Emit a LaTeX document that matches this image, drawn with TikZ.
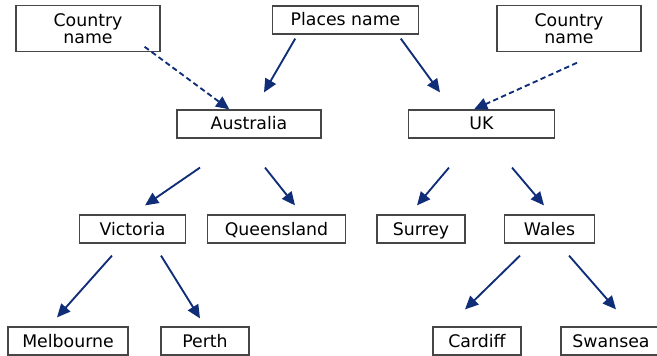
\documentclass[tikz,border=0pt]{standalone}
\usepackage{fontspec}
\setmainfont{DejaVu Sans}
\usetikzlibrary{arrows.meta,calc}
\definecolor{arrowblue}{RGB}{16,46,120}
\definecolor{boxgray}{RGB}{70,70,70}

\begin{document}
\begin{tikzpicture}[x=0.75pt,y=0.75pt,yscale=-1,xscale=1,
  box/.style={draw=boxgray,line width=0.9pt,fill=white,inner sep=0pt,minimum height=21pt,text height=11pt,text depth=2pt,font=\fontsize{13}{12.5}\selectfont},
  twoline/.style={box,align=center,minimum height=34pt,text height=,text depth=},
  arr/.style={draw=arrowblue,line width=1.4pt,-{Triangle[length=10pt,width=9pt]}},
  dasharr/.style={arr,dash pattern={on 4pt off 2.5pt}}]
\useasboundingbox (0,0) rectangle (657,356);

% Text Node
\node [twoline,minimum width=108pt] (cleft) at (88,28.5) {Country\\name};
% Text Node
\node [box,minimum width=109pt] (places) at (345.5,20) {Places name};
% Text Node
\node [twoline,minimum width=108pt] (cright) at (569,28.5) {Country\\name};
% Text Node
\node [box,minimum width=108pt] (aus) at (249,124) {Australia};
% Text Node
\node [box,minimum width=109pt] (uk) at (481.5,124) {UK};
% Text Node
\node [box,minimum width=79pt] (vic) at (132.5,229) {Victoria};
% Text Node
\node [box,minimum width=103pt] (qld) at (276.5,229) {Queensland};
% Text Node
\node [box,minimum width=66pt] (sur) at (421,229) {Surrey};
% Text Node
\node [box,minimum width=67pt] (wal) at (549.5,229) {Wales};
% Text Node
\node [box,minimum width=90pt] (mel) at (68,341) {Melbourne};
% Text Node
\node [box,minimum width=66pt] (per) at (205,341) {Perth};
% Text Node
\node [box,minimum width=66pt] (car) at (477,341) {Cardiff};
% Text Node
\node [box,minimum width=75pt] (swa) at (611,341) {Swansea};

%Straight Lines
\draw [dasharr] ($(cleft.south east)+(-16,-5)$) -- ($(aus.north west)+(53,0)$);
\draw [arr] ($(places.south west)+(23,4)$) -- ($(aus.north)+(15,-17)$);
\draw [arr] ($(places.south east)+(-18,4)$) -- ($(uk.north)+(-41.5,-17)$);
\draw [dasharr] ($(cright.south)+(8,11)$) -- ($(uk.north)+(-7.5,0)$);
%Straight Lines
\draw [arr] ($(aus.south)+(-49,29)$) -- ($(vic.north)+(12.5,-9)$);
\draw [arr] ($(aus.south)+(16,29)$) -- ($(qld.north)+(18.5,-9)$);
\draw [arr] ($(uk.south)+(-32.5,29)$) -- ($(sur.north)+(-4,-9)$);
\draw [arr] ($(uk.south)+(30.5,29)$) -- ($(wal.north)+(-5.5,-9)$);
%Straight Lines
\draw [arr] ($(vic.south)+(-20.5,12)$) -- ($(mel.north)+(-11,-9)$);
\draw [arr] ($(vic.south)+(28.5,12)$) -- ($(per.north)+(-5,-8)$);
\draw [arr] ($(wal.south)+(-29.5,12)$) -- ($(car.north)+(-12,-17)$);
\draw [arr] ($(wal.south)+(19.5,12)$) -- ($(swa.north)+(5,-17)$);

\end{tikzpicture}
\end{document}
